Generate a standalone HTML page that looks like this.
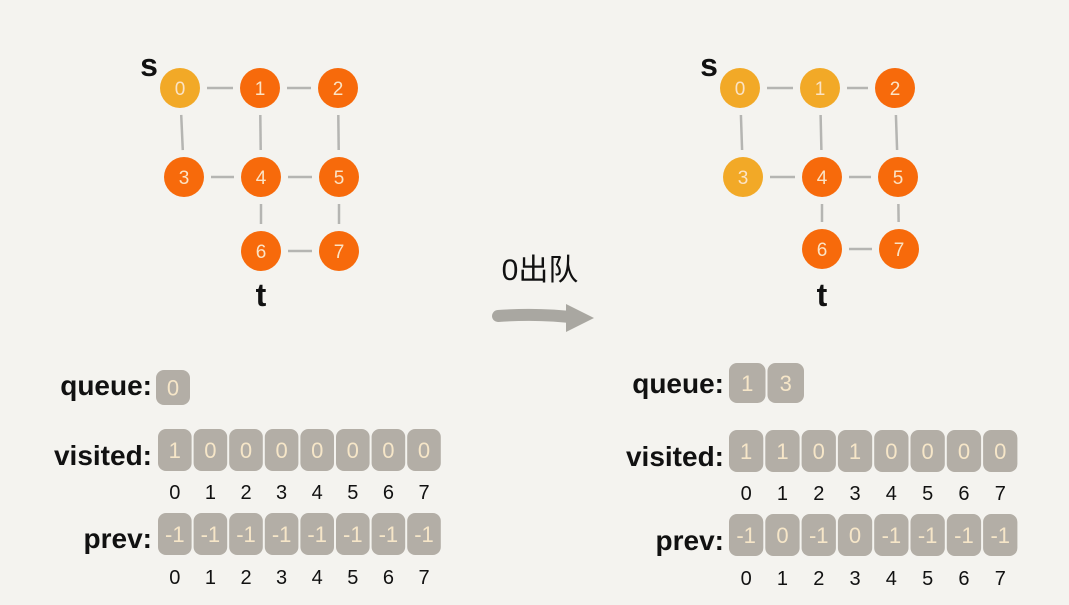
<!DOCTYPE html>
<html><head><meta charset="utf-8"><style>
html,body{margin:0;padding:0;background:#f4f3ef;}
svg{display:block;font-family:"Liberation Sans","Noto Sans CJK SC",sans-serif;}
</style></head><body>
<svg id="s" width="1069" height="605" viewBox="0 0 1069 605">
<rect width="1069" height="605" fill="#f4f3ef"/>
<g id="arrow">
<path d="M498 316 Q540 313 578 318" stroke="#a9a7a1" stroke-width="12" stroke-linecap="round" fill="none"/>
<path d="M566 304 L594 318 L566 332 Z" fill="#a9a7a1"/>
<text x="540" y="280" font-size="30" text-anchor="middle" fill="#111">0出队</text>
</g>
</svg>
<script>
const edges=[[0,1],[1,2],[0,3],[1,4],[2,5],[3,4],[4,5],[4,6],[5,7],[6,7]];
const leftColors=["y","o","o","o","o","o","o","o"];
const rightColors=["y","y","o","y","o","o","o","o"];
const leftQueue=["0"];
const rightQueue=["1","3"];
const leftVisited=["1","0","0","0","0","0","0","0"];
const rightVisited=["1","1","0","1","0","0","0","0"];
const leftPrev=["-1","-1","-1","-1","-1","-1","-1","-1"];
const rightPrev=["-1","0","-1","0","-1","-1","-1","-1"];
const indices=["0","1","2","3","4","5","6","7"];

const NS="http://www.w3.org/2000/svg";
const svg=document.getElementById('s');
function mk(tag,attrs,parent){const e=document.createElementNS(NS,tag);for(const k in attrs)e.setAttribute(k,attrs[k]);(parent||svg).appendChild(e);return e;}
const posL=[[180,88],[260,88],[338,88],[184,177],[261,177],[339,177],[261,251],[339,251]];
const posR=[[740,88],[820,88],[895,88],[743,177],[822,177],[898,177],[822,249],[899,249]];
function graph(pos,colors,side){
  const g=mk('g',{});
  
  
  edges.forEach(([a,b])=>{
    const [x1,y1]=pos[a],[x2,y2]=pos[b];
    const dx=x2-x1,dy=y2-y1,L=Math.hypot(dx,dy),ux=dx/L,uy=dy/L;
    const l=mk('line',{x1:x1+ux*27,y1:y1+uy*27,x2:x2-ux*27,y2:y2-uy*27,stroke:'#b5b5b2','stroke-width':2.5},g);
    
    
  });
  pos.forEach(([x,y],i)=>{
    const c=mk('circle',{cx:x,cy:y,r:20,fill:colors[i]==='y'?'#f2a927':'#f76a0b'},g);
    
    
    const t=mk('text',{x:x,y:y+7,'font-size':19,'text-anchor':'middle',fill:'#fbe3c5'},g);
    t.textContent=indices[i];
    
    
  });
  const s=mk('text',{x:pos[0][0]-31,y:76,'font-size':32,'font-weight':'bold','text-anchor':'middle',fill:'#111'},g);
  s.textContent='s';
  
  
  const t=mk('text',{x:pos[6][0],y:306,'font-size':32,'font-weight':'bold','text-anchor':'middle',fill:'#111'},g);
  t.textContent='t';
  
  
}
graph(posL,leftColors,'left');
graph(posR,rightColors,'right');

function boxes(x0,y0,w,h,vals,name){
  vals.forEach((v,i)=>{
    const r=mk('rect',{x:x0+i*w+1,y:y0,width:w-2,height:h,rx:8,fill:'#b3aea6'});
    
    
    const t=mk('text',{x:x0+i*w+w/2,y:y0+h/2+8,'font-size':22,'text-anchor':'middle',fill:'#f6e6c8'});
    t.textContent=v;
    
    
  });
}
function idx(x0,y,w,name){
  indices.forEach((v,i)=>{
    const t=mk('text',{x:x0+i*w+w/2,y:y,'font-size':20,'text-anchor':'middle',fill:'#111'});
    t.textContent=v;
    
    
  });
}
function label(x,y,txt,name){
  const t=mk('text',{x:x,y:y,'font-size':28,'text-anchor':'end',fill:'#111','font-weight':'bold'});
  t.textContent=txt;
  
  
}
const LW=35.6, RW=36.3;
label(152,395,'queue:','left-queue-label');
boxes(155,370,36,35,leftQueue,'left-queue');
label(152,465,'visited:','left-visited-label');
boxes(157,429,LW,42,leftVisited,'left-visited');
idx(157,499,LW,'left-visited');
label(152,548,'prev:','left-prev-label');
boxes(157,513,LW,42,leftPrev,'left-prev');
idx(157,584,LW,'left-prev');

label(724,393,'queue:','right-queue-label');
boxes(728,363,38.5,40,rightQueue,'right-queue');
label(724,466,'visited:','right-visited-label');
boxes(728,430,RW,42,rightVisited,'right-visited');
idx(728,500,RW,'right-visited');
label(724,550,'prev:','right-prev-label');
boxes(728,514,RW,42,rightPrev,'right-prev');
idx(728,585,RW,'right-prev');
</script>
</body></html>
